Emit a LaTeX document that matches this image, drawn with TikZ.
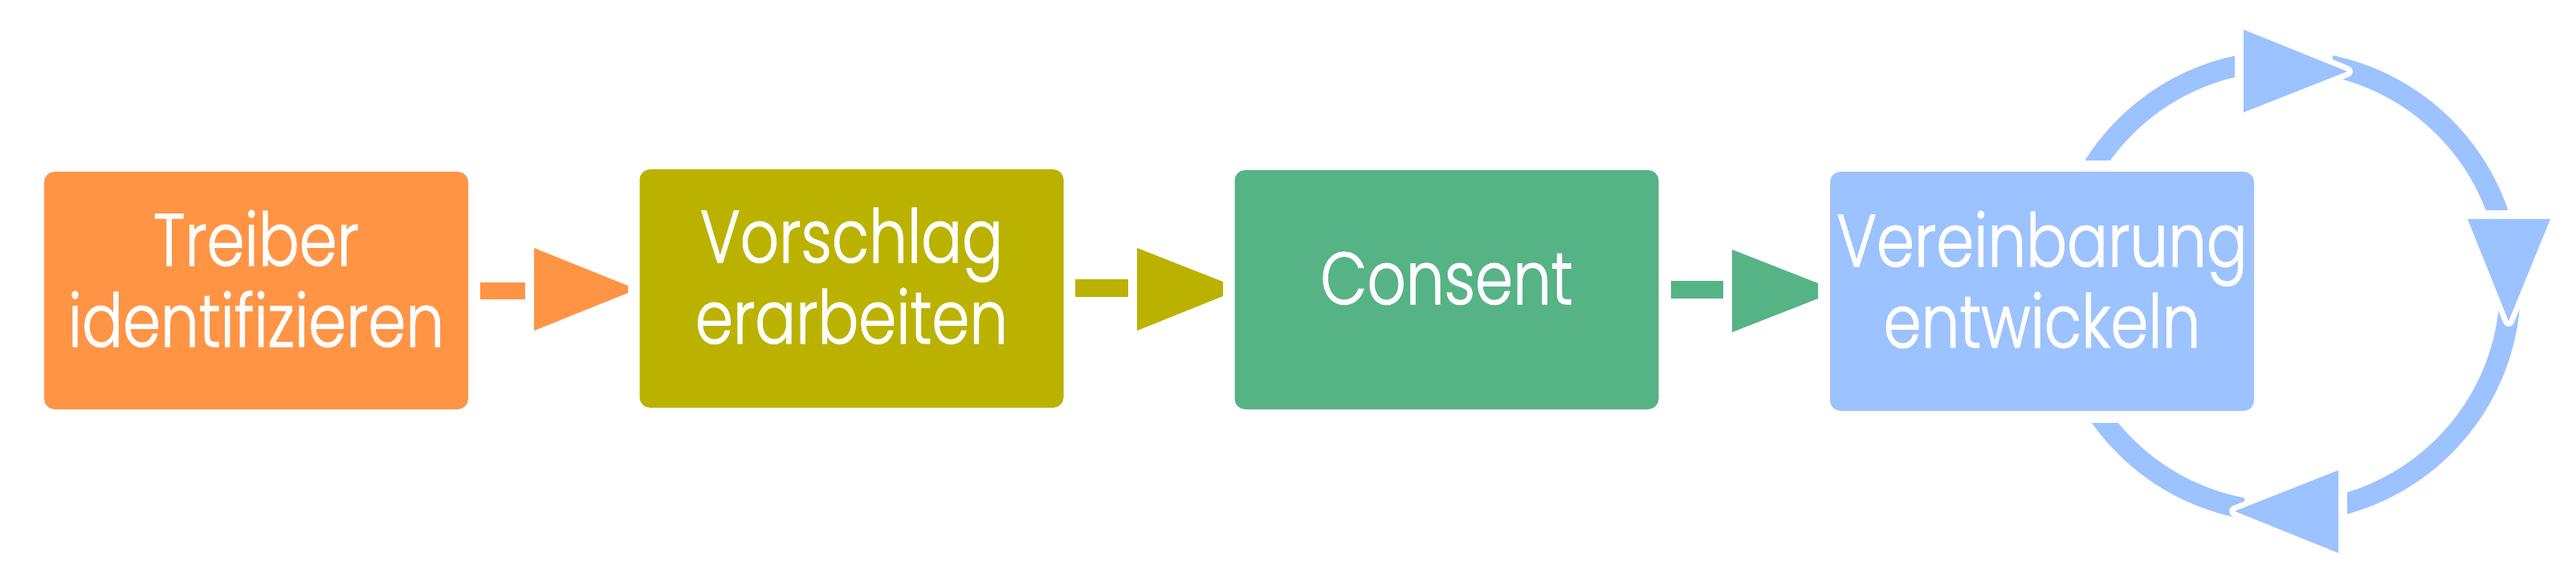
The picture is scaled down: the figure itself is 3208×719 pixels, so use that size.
\documentclass[tikz,border=0pt]{standalone}
\usepackage{fontspec}
\setmainfont{Poppins}[UprightFont={* Light}, FakeStretch=0.82, FakeBold=1.2]
\definecolor{cOrange}{RGB}{255,148,69}
\definecolor{cOlive}{RGB}{187,178,0}
\definecolor{cGreen}{RGB}{86,179,134}
\definecolor{cBlue}{RGB}{156,194,255}
\tikzset{
  boxstyle/.style={rounded corners=13pt, inner sep=0pt, minimum width=528pt, draw=none},
  txt/.style={text=white, anchor=base, inner sep=0pt, font=\fontsize{92}{101}\selectfont},
  halo/.style={draw=white, line width=14pt, line join=round, fill=white},
  ring/.style={draw=cBlue, line width=26pt},
}
\begin{document}
\begin{tikzpicture}[x=1pt, y=-1pt]
\useasboundingbox (0,0) rectangle (3208,719);
% boxes
\node[boxstyle, fill=cOrange, minimum height=296pt] (b1) at (319,362) {};
\node[boxstyle, fill=cOlive,  minimum height=297pt] (b2) at (1060.5,359.5) {};
\node[boxstyle, fill=cGreen,  minimum height=298pt] (b3) at (1801.5,361) {};
\node[boxstyle, fill=cBlue,   minimum height=298pt] (b4) at (2543,363) {};
% texts
\node[txt] (t1a) at (319,331) {Treiber};
\node[txt] (t1b) at (319,432) {identifizieren};
\node[txt] (t2a) at (1060.5,327) {Vorschlag};
\node[txt] (t2b) at (1060.5,428) {erarbeiten};
\node[txt] (t3a) at (1801.5,379) {Consent};
\node[txt] (t4a) at (2543,332) {Vereinbarung};
\node[txt] (t4b) at (2543,433) {entwickeln};
% arrows between boxes
\fill[cOrange] (598,352) rectangle (654,373);
\fill[cOrange] (665,309) -- (782,356) -- (782,365) -- (665,412) -- cycle;
\fill[cOlive] (1339,348) rectangle (1405,370);
\fill[cOlive] (1416,309) -- (1523,351) -- (1523,369) -- (1416,412) -- cycle;
\fill[cGreen] (2081,350) rectangle (2146,372);
\fill[cGreen] (2157,311) -- (2264,353) -- (2264,372) -- (2157,414) -- cycle;
% cycle ring
\coordinate (C) at (2845,357);
\begin{scope}
  \clip (2500,0) rectangle (2783,200);
  \draw[ring] (C) circle[radius=281pt];
\end{scope}
\begin{scope}
  \clip (2905,0) rectangle (3208,262);
  \draw[ring] (C) circle[radius=281pt];
\end{scope}
\begin{scope}
  \clip (2923,380) rectangle (3208,719);
  \draw[ring] (C) circle[radius=281pt];
\end{scope}
\begin{scope}
  \clip (2500,527) rectangle (2795,719);
  \draw[ring] (C) circle[radius=281pt];
\end{scope}
% arrowheads on ring
\filldraw[halo] (2794,37) -- (2923,89) -- (2794,140) -- cycle;
\fill[cBlue] (2794,37) -- (2923,89) -- (2794,140) -- cycle;
\filldraw[halo] (3073,273) -- (3176,273) -- (3124,400) -- cycle;
\fill[cBlue] (3073,273) -- (3176,273) -- (3124,400) -- cycle;
\filldraw[halo] (2912,586) -- (2912,689) -- (2783,637) -- cycle;
\fill[cBlue] (2912,586) -- (2912,689) -- (2783,637) -- cycle;
\end{tikzpicture}
\end{document}
